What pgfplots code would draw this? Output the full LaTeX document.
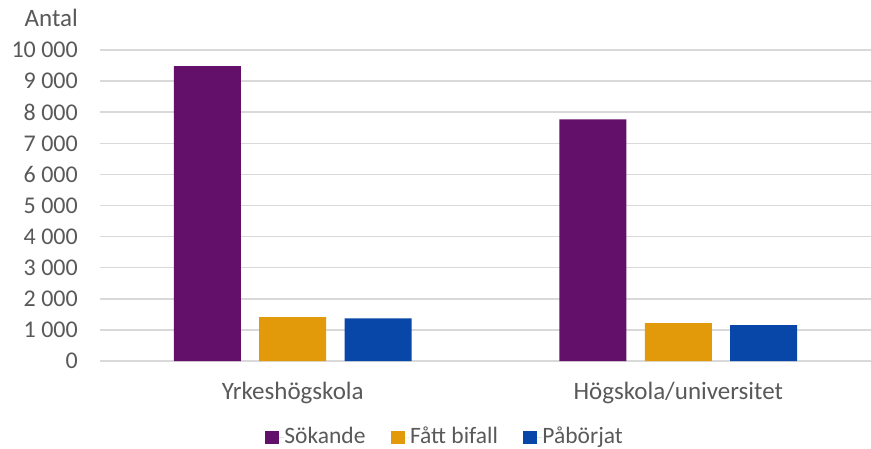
\documentclass[border=0pt]{standalone}
\usepackage{fontspec}
\setmainfont{Carlito}
\usepackage{pgfplots}
\pgfplotsset{compat=1.18}
\definecolor{cpurple}{HTML}{62106A}
\definecolor{corange}{HTML}{E39A0A}
\definecolor{cblue}{HTML}{0846A8}
\definecolor{ctext}{HTML}{595959}
\definecolor{cgrid}{HTML}{D9D9D9}
\begin{document}
\begin{tikzpicture}
\fontsize{25}{30}\selectfont
\begin{axis}[
  name=ax,
  scale only axis,
  width=771pt, height=311pt,
  xmin=-0.5, xmax=1.5,
  ymin=0, ymax=10000,
  ytick={0,1000,...,10000},
  scaled y ticks=false,
  xtick={0,1},
  xticklabels={Yrkeshögskola,Högskola/universitet},
  axis line style={draw=none},
  tick style={draw=none},
  major tick length=0pt,
  ymajorgrids,
  grid style={cgrid, line width=1.5pt},
  ybar,
  bar width=67pt,
  /pgf/number format/.cd, 1000 sep={\ }, assume math mode=true,
  /pgfplots/.cd,
  yticklabel style={font=\fontsize{24}{29}\selectfont, text=ctext, inner sep=0pt, anchor=east, xshift=-22pt},
  xticklabel style={font=\fontsize{25}{30}\selectfont, text=ctext, inner sep=0pt, anchor=base, yshift=-38.3pt},
  legend style={draw=none, fill=none, font=\fontsize{23.5}{28}\selectfont, text=ctext,
    at={(0.446,-0.246)}, anchor=center, legend columns=3,
    nodes={inner xsep=0pt, inner ysep=2pt},
    /tikz/every even column/.append style={column sep=25pt}},
  legend image code/.code={\fill[#1] (0pt,-6.5pt) rectangle (14pt,6.5pt); \path (0pt,0pt) -- (19.5pt,0pt);},
  legend cell align=left,
  clip=false,
]
\addplot[fill=cpurple, draw=none, bar shift=-85.3pt] coordinates {(0,9480) (1,7770)};
\addplot[fill=corange, draw=none, bar shift=0pt] coordinates {(0,1410) (1,1220)};
\addplot[fill=cblue, draw=none, bar shift=85.3pt] coordinates {(0,1370) (1,1150)};
\legend{Sökande,Fått bifall,Påbörjat}
\end{axis}
\node[anchor=east, inner sep=0pt, text=ctext] at ([shift={(-22pt,32pt)}]ax.north west) {Antal};
\pgfresetboundingbox
\path[use as bounding box] ([shift={(-100pt,-87pt)}]ax.south west) rectangle ([shift={(0pt,50pt)}]ax.north east);
\end{tikzpicture}
\end{document}
